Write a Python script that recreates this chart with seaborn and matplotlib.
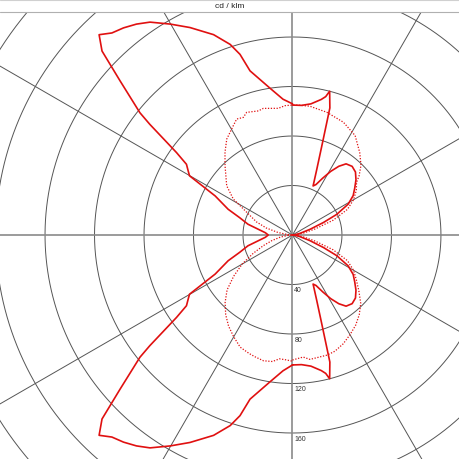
import numpy as np
import pandas as pd
import matplotlib
matplotlib.use('Agg')
import matplotlib.pyplot as plt
import seaborn as sns

#gamma angles (deg from nadir) and intensities (cd/klm)
#C0 plane, right half, solid
c0_gamma = [0, 4, 8, 12, 13.5, 14.5, 16.4, 18.3, 20.4, 22.8, 25, 28, 31, 34, 37, 41, 45, 49, 53, 57, 61, 65, 68, 72, 78, 84, 90,
            96, 102, 108, 112, 115, 119, 123, 127, 131, 135, 139, 143, 146, 149, 152, 155, 157.2, 159.6, 161.7, 163.6, 165.5, 166.5, 168, 172, 176, 180]
c0_value = [105, 105, 107, 112, 115, 120, 107, 75, 56, 43, 45, 52, 60, 67, 72, 73.5, 72, 68, 63, 58.5, 51.5, 39.5, 27, 15, 6, 2, 0,
            2, 6, 15, 27, 39.5, 51.5, 58.5, 63, 68, 72, 73.5, 72, 67, 60, 52, 45, 43, 56, 75, 107, 120, 115, 112, 107, 105, 105]

#C180 plane, left half, solid
c180_gamma = [0, 4, 8.7, 14.5, 16.2, 18.1, 21.5, 26.3, 30.1, 33.8, 36.5, 39.2, 41.8, 44, 46, 48.2, 51.3, 52.2, 54.6, 56.3, 58.4, 60.1,
              63.2, 68.2, 71.8, 76.4, 80.5, 85.2, 90,
              94.8, 99.5, 103.6, 108.2, 111.8, 116.8, 119.9, 121.6, 123.7, 125.4, 127.8, 128.7, 131.8, 134, 136, 138.2,
              140.8, 143.5, 146.2, 149.9, 153.7, 158.5, 161.9, 163.8, 165.5, 171.3, 176, 180]
c180_value = [105, 110, 120, 137, 152, 162, 174, 187, 197, 207, 212, 216, 219, 225, 214, 187, 158, 146, 115, 103, 99, 96,
              70, 56, 45, 37, 28, 22, 19.6,
              22, 28, 37, 45, 56, 70, 96, 99, 103, 115, 146, 158, 187, 214, 225, 219,
              216, 212, 207, 197, 187, 174, 162, 152, 137, 120, 110, 106]

#C90 plane, right half, dotted
c90_gamma = [0, 5, 8, 12, 16, 20, 25, 30, 35, 40, 45, 50, 55, 60, 65, 70, 75, 80, 85, 90,
             95, 100, 105, 110, 115, 120, 125, 129.4, 131.6, 135.5, 140.8, 147.8, 155.7, 164.4, 172.3, 176.7, 180]
c90_value = [101, 99, 101.5, 101, 101, 100, 97, 93, 89, 84, 78, 70, 63, 57, 49, 35, 19, 9, 3, 0,
             3, 9, 19, 35, 49, 57, 63, 67, 72, 79, 86, 95, 100, 103, 105, 105, 105]

#C270 plane, left half, dotted
c270_gamma = [0, 3, 6, 9, 13, 17, 20, 25, 30, 35, 40, 45, 50, 55, 60, 65, 70, 75, 80, 85, 90,
              95, 100, 105, 110, 116.4, 121.3, 126.8, 135.8, 140.8, 145.6, 151.6, 154.3, 157.3, 159.5, 164.6, 167, 173.6, 176.7, 180]
c270_value = [102, 101, 100.6, 103.5, 104.3, 103, 102, 100, 95, 90, 84, 77, 69, 58, 47, 35, 25, 17, 10, 4, 0,
              4, 12, 22, 31, 41.3, 56, 66.4, 78.2, 86.3, 94, 100.5, 104, 103, 105.8, 104, 105, 103, 104.7, 105]

ring_values = [40, 80, 120, 160, 200, 240, 280, 320]
ring_labels = ['40', '80', '120', '160']


def to_xy(gamma, value, side):
    g = np.radians(np.array(gamma, dtype=float))
    r = np.array(value, dtype=float)
    return side * r * np.sin(g), -r * np.cos(g)


#solid curve: C0 then C180 back to nadir
x0, y0 = to_xy(c0_gamma, c0_value, 1)
x1, y1 = to_xy(c180_gamma, c180_value, -1)
solid = pd.DataFrame({'x': np.concatenate([x0, x1[::-1]]), 'y': np.concatenate([y0, y1[::-1]])})

#dotted curve: C90 then C270
x2, y2 = to_xy(c90_gamma, c90_value, 1)
x3, y3 = to_xy(c270_gamma, c270_value, -1)
dotted = pd.DataFrame({'x': np.concatenate([x2, x3[::-1]]), 'y': np.concatenate([y2, y3[::-1]])})

sns.set_style('white')
plt.rcParams['font.family'] = ['Liberation Sans', 'DejaVu Sans']

fig = plt.figure(figsize=(4.6, 4.6), dpi=100)
ax = fig.add_axes([0, 0, 1, 447 / 460])

#polar grid
t = np.linspace(0, 2 * np.pi, 721)
for rv in ring_values:
    ax.plot(rv * np.cos(t), rv * np.sin(t), color='#555555', lw=0.7, zorder=1)
for a in [30, 60, 120, 150]:
    ar = np.radians(a)
    ax.plot([-400 * np.sin(ar), 400 * np.sin(ar)], [-400 * np.cos(ar), 400 * np.cos(ar)],
            color='#555555', lw=0.7, zorder=1)
ax.axvline(0, color='#8a8a8a', lw=1.2, zorder=1)
ax.axhline(0, color='#8a8a8a', lw=1.2, zorder=1)

for rv, lab in zip(ring_values, ring_labels):
    ax.text(1.5, -rv - 1.5, lab, fontsize=5, color='#333333', ha='left', va='top', zorder=2)

#light distribution curves
sns.lineplot(data=solid, x='x', y='y', sort=False, estimator=None, color='#e01010', lw=1.2, ax=ax, zorder=3)
sns.lineplot(data=dotted, x='x', y='y', sort=False, estimator=None, color='#e01010', lw=0.9,
             linestyle=(0, (1, 1.3)), ax=ax, zorder=3)

ax.set_xlim(-236.4, 135.4)
ax.set_ylim(-181, 180.2)
ax.set_xlabel('')
ax.set_ylabel('')
ax.set_xticks([])
ax.set_yticks([])
for s in ax.spines.values():
    s.set_visible(False)

#header band
fig.text(0.5, 1 - 6.5 / 460, 'cd / klm', fontsize=6, ha='center', va='center', color='#222222')
fig.add_artist(plt.Line2D([0, 1], [447 / 460, 447 / 460], color='#b0b0b0', lw=0.8))
fig.add_artist(plt.Line2D([0, 1], [1 - 0.5 / 460, 1 - 0.5 / 460], color='#d0d0d0', lw=0.8))

plt.savefig('out.png', dpi=100)
